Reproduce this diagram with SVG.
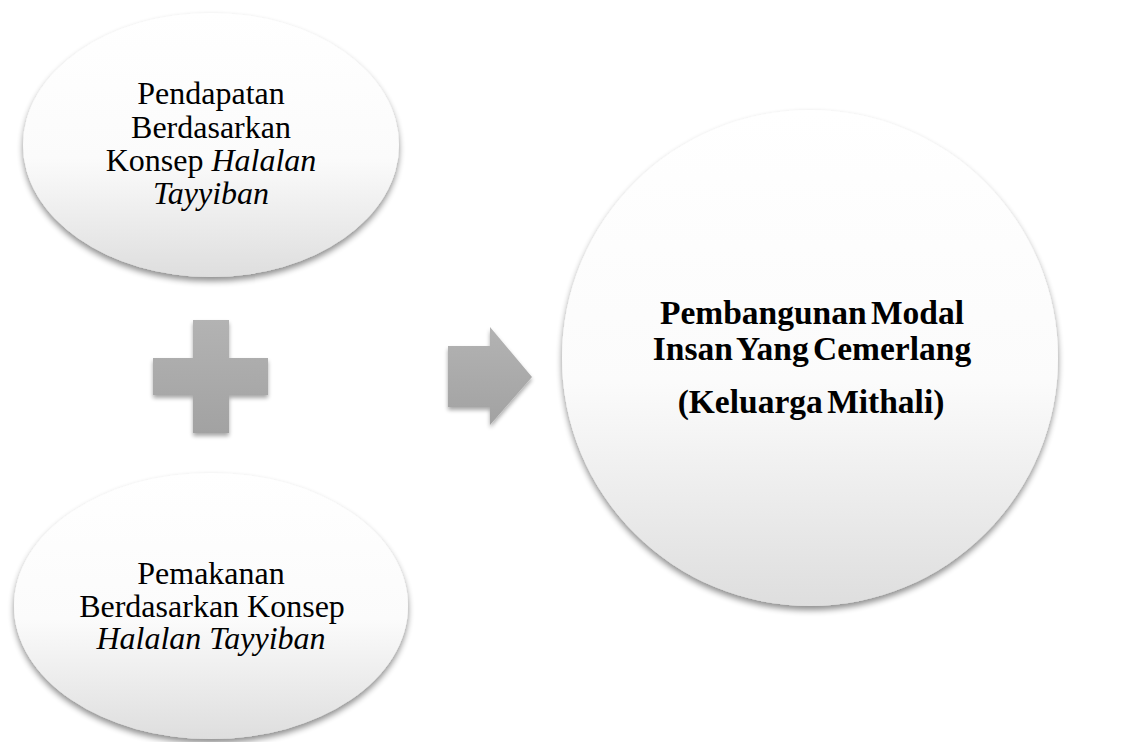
<svg xmlns="http://www.w3.org/2000/svg" width="1144" height="742" viewBox="0 0 1144 742">
<defs>
<linearGradient id="gEll" x1="0" y1="0" x2="0" y2="1">
<stop offset="0" stop-color="#ffffff"/>
<stop offset="0.55" stop-color="#fbfbfb"/>
<stop offset="1" stop-color="#dedede"/>
</linearGradient>
<linearGradient id="gGray" x1="0" y1="0" x2="0" y2="1">
<stop offset="0" stop-color="#b3b3b3"/>
<stop offset="1" stop-color="#a2a2a2"/>
</linearGradient>
<filter id="shadow" x="-10%" y="-10%" width="120%" height="125%">
<feGaussianBlur in="SourceAlpha" stdDeviation="3"/>
<feOffset dx="0" dy="4" result="b"/>
<feComponentTransfer><feFuncA type="linear" slope="0.45"/></feComponentTransfer>
<feMerge><feMergeNode/><feMergeNode in="SourceGraphic"/></feMerge>
</filter>
<filter id="shadowS" x="-20%" y="-20%" width="140%" height="140%">
<feGaussianBlur in="SourceAlpha" stdDeviation="2"/>
<feOffset dx="0" dy="3" result="b"/>
<feComponentTransfer><feFuncA type="linear" slope="0.35"/></feComponentTransfer>
<feMerge><feMergeNode/><feMergeNode in="SourceGraphic"/></feMerge>
</filter>
</defs>
<style>
.ell{fill:url(#gEll);filter:url(#shadow)}
.sym{fill:url(#gGray);filter:url(#shadowS)}
.t{font-family:"Liberation Serif","Times New Roman",serif;font-size:32px;fill:#000;text-anchor:middle}
.tb{font-family:"Liberation Serif","Times New Roman",serif;font-size:33.5px;font-weight:bold;fill:#000;text-anchor:middle}
.i{font-style:italic}
</style>
<rect width="1144" height="742" fill="#ffffff"/>
<g id="node-pendapatan">
<ellipse class="ell" cx="211" cy="145" rx="188" ry="132"/>
<text class="t" x="211" y="104">Pendapatan</text>
<text class="t" x="211" y="138">Berdasarkan</text>
<text class="t" x="211" y="171">Konsep <tspan class="i">Halalan</tspan></text>
<text class="t i" x="211" y="204">Tayyiban</text>
</g>
<g id="node-pemakanan">
<ellipse class="ell" cx="211" cy="606" rx="197" ry="133"/>
<text class="t" x="211" y="584">Pemakanan</text>
<text class="t" x="212" y="617">Berdasarkan Konsep</text>
<text class="t i" x="211" y="649">Halalan Tayyiban</text>
</g>
<g id="node-pembangunan">
<circle class="ell" cx="810" cy="358" r="248"/>
<text class="tb" x="812" y="324" word-spacing="-4">Pembangunan Modal</text>
<text class="tb" x="812" y="360" word-spacing="-4">Insan Yang Cemerlang</text>
<text class="tb" x="811" y="413" word-spacing="-4">(Keluarga Mithali)</text>
</g>
<g id="connectors">
<path class="sym" d="M193 320 H229 V358 H268 V395 H229 V433 H193 V395 H153 V358 H193 Z"/>
<path class="sym" d="M448 346 H490 V327 L532 377 L490 425 V407 H448 Z"/>
</g>
</svg>
